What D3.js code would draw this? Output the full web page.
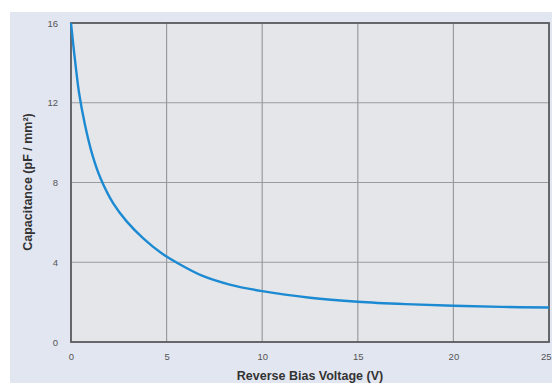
<!DOCTYPE html>
<html><head><meta charset="utf-8">
<script src="https://cdn.jsdelivr.net/npm/d3@7"></script>
<style>body{margin:0;background:#fff;}svg{display:block;}</style>
</head><body>
<script>
const voltage =     [0,    0.12, 0.25, 0.42, 0.73, 1.13, 1.55, 2.21, 2.91, 3.78, 4.74, 5.5, 6.92, 8.3,  10,   12.5, 15,   17.5, 20,   22.5, 25];
const capacitance = [16.0, 14.9, 13.8, 12.5, 10.9, 9.35, 8.2,  6.95, 6.05, 5.2,  4.45, 4.0, 3.3,  2.88, 2.55, 2.22, 2.02, 1.9,  1.82, 1.76, 1.73];
const xTicks = [0, 5, 10, 15, 20, 25];
const yTicks = [0, 4, 8, 12, 16];
const xTitle = "Reverse Bias Voltage (V)";
const yTitle = "Capacitance (pF / mm²)";

const W = 552, H = 383;
const svg = d3.select("body").append("svg").attr("width", W).attr("height", H);
svg.append("rect").attr("x", 10).attr("y", 12).attr("width", W - 10).attr("height", H - 12).attr("fill", "#e2e6f1");

const L = 71, R = 549, T = 23, B = 342;
const x = d3.scaleLinear().domain([0, 25]).range([L, R]);
const y = d3.scaleLinear().domain([0, 16]).range([B, T]);

svg.append("rect").attr("x", L).attr("y", T).attr("width", R - L).attr("height", B - T).attr("fill", "#e5e6e9");

// grid
svg.append("g").selectAll("line").data(xTicks.slice(1, -1)).join("line")
  .attr("x1", d => x(d)).attr("x2", d => x(d)).attr("y1", T).attr("y2", B)
  .attr("stroke", "#9a9b9e").attr("stroke-width", 1.2);
svg.append("g").selectAll("line").data(yTicks.slice(1, -1)).join("line")
  .attr("y1", d => y(d)).attr("y2", d => y(d)).attr("x1", L).attr("x2", R)
  .attr("stroke", "#9a9b9e").attr("stroke-width", 1.2);

// axes (labels only)
const fontFam = "'Liberation Sans', Arial, Helvetica, sans-serif";
const xAxis = svg.append("g").attr("transform", `translate(0,${B})`)
  .call(d3.axisBottom(x).tickValues(xTicks).tickSize(0).tickPadding(11));
const yAxis = svg.append("g").attr("transform", `translate(${L},0)`)
  .call(d3.axisLeft(y).tickValues(yTicks).tickSize(0).tickPadding(13));
[xAxis, yAxis].forEach(a => {
  a.select(".domain").remove();
  a.selectAll("text").attr("font-family", fontFam).attr("font-size", 9.5).attr("fill", "#555");
});
xAxis.selectAll(".tick").filter(d => d === 25).select("text").attr("text-anchor", "end").attr("dx", 2);

// border
svg.append("rect").attr("x", L).attr("y", T).attr("width", R - L).attr("height", B - T)
  .attr("fill", "none").attr("stroke", "#58595c").attr("stroke-width", 1.8);

// curve
const line = d3.line().x((d, i) => x(voltage[i])).y(d => y(d)).curve(d3.curveCatmullRom.alpha(0.5));
svg.append("path").datum(capacitance).attr("d", line)
  .attr("fill", "none").attr("stroke", "#1c8ad2").attr("stroke-width", 2.4);

// titles
svg.append("text").attr("x", 310).attr("y", 380).attr("text-anchor", "middle")
  .attr("font-family", fontFam).attr("font-size", 12.5).attr("font-weight", "bold").attr("fill", "#333")
  .text(xTitle);
svg.append("text").attr("transform", "translate(32,182) rotate(-90)").attr("text-anchor", "middle")
  .attr("font-family", fontFam).attr("font-size", 12.5).attr("font-weight", "bold").attr("fill", "#333")
  .text(yTitle);
</script>
</body></html>
